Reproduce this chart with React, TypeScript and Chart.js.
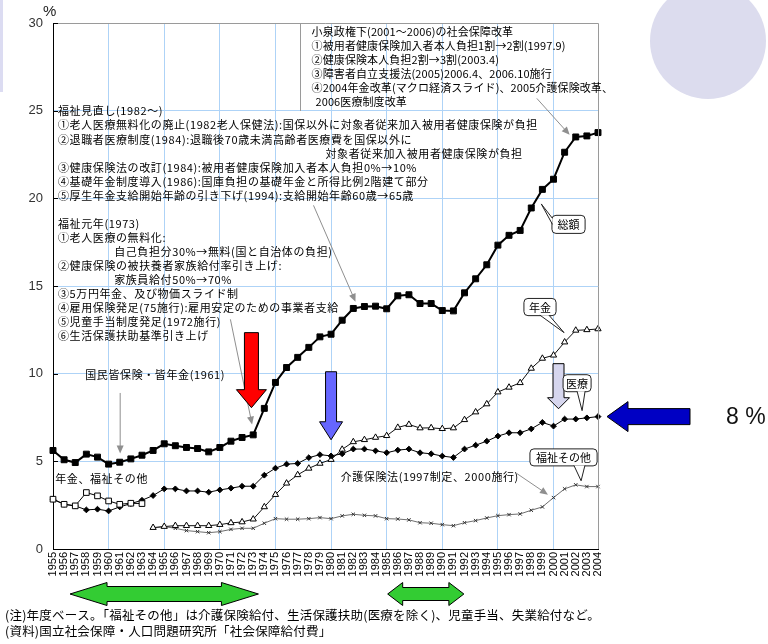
import React, { useEffect, useRef } from "react";
import { Chart, registerables } from "chart.js";
Chart.register(...registerables);

// ---------- data ----------
const years = [
  "1955","1956","1957","1958","1959","1960","1961","1962","1963","1964",
  "1965","1966","1967","1968","1969","1970","1971","1972","1973","1974",
  "1975","1976","1977","1978","1979","1980","1981","1982","1983","1984",
  "1985","1986","1987","1988","1989","1990","1991","1992","1993","1994",
  "1995","1996","1997","1998","1999","2000","2001","2002","2003","2004",
];

// 総額 (total social security benefits, % of national income)
const totalShare = [
  5.62, 5.09, 4.93, 5.41, 5.24, 4.84, 4.95, 5.14, 5.35, 5.62,
  6.0, 5.89, 5.79, 5.73, 5.54, 5.79, 6.15, 6.36, 6.51, 8.02,
  9.5, 10.35, 10.93, 11.5, 12.1, 12.25, 13.05, 13.72, 13.83, 13.85,
  13.7, 14.44, 14.5, 14.0, 14.0, 13.6, 13.58, 14.61, 15.41, 16.21,
  17.33, 17.89, 18.17, 19.45, 20.51, 21.09, 22.63, 23.5, 23.56, 23.75,
];

// 医療
const medical = [
  2.84, 2.55, 2.46, 2.23, 2.27, 2.17, 2.4, 2.59, 2.78, 3.05,
  3.43, 3.43, 3.31, 3.31, 3.24, 3.37, 3.47, 3.58, 3.58, 4.21,
  4.61, 4.84, 4.88, 5.21, 5.38, 5.31, 5.43, 5.7, 5.7, 5.6,
  5.49, 5.64, 5.7, 5.49, 5.43, 5.3, 5.22, 5.7, 5.92, 6.15,
  6.44, 6.63, 6.63, 6.85, 7.22, 7.01, 7.41, 7.41, 7.48, 7.55,
];

// 年金
const pension = [
  null, null, null, null, null, null, null, null, null, 1.22,
  1.28, 1.33, 1.33, 1.33, 1.33, 1.39, 1.49, 1.54, 1.7, 2.4,
  3.1, 3.75, 4.23, 4.6, 4.88, 5.1, 5.68, 6.11, 6.23, 6.36,
  6.46, 6.93, 7.1, 6.9, 6.91, 6.86, 6.9, 7.37, 7.81, 8.27,
  8.95, 9.22, 9.48, 10.3, 10.87, 11.05, 11.8, 12.47, 12.5, 12.55,
];

// 福祉その他
const welfareOther = [
  null, null, null, null, null, null, null, null, null, 1.2,
  1.28, 1.18, 1.05, 0.99, 0.93, 0.99, 1.12, 1.18, 1.18, 1.47,
  1.73, 1.7, 1.7, 1.73, 1.79, 1.73, 1.89, 1.98, 1.92, 1.89,
  1.73, 1.71, 1.66, 1.5, 1.47, 1.39, 1.33, 1.5, 1.62, 1.77,
  1.9, 1.96, 2.0, 2.21, 2.4, 2.93, 3.43, 3.66, 3.56, 3.56,
];

// 年金、福祉その他 (combined, early years)
const pensionWelfareEarly = [
  2.84, 2.55, 2.46, 3.22, 3.03, 2.74, 2.55, 2.61, 2.59, null,
  null, null, null, null, null, null, null, null, null, null,
  null, null, null, null, null, null, null, null, null, null,
  null, null, null, null, null, null, null, null, null, null,
  null, null, null, null, null, null, null, null, null, null,
];

const yTickValues = [0, 5, 10, 15, 20, 25, 30];

// ---------- annotation texts ----------
const koizumiNotes = [
  "小泉政権下(2001～2006)の社会保障改革",
  "①被用者健康保険加入者本人負担1割→2割(1997.9)",
  "②健康保険本人負担2割→3割(2003.4)",
  "③障害者自立支援法(2005)2006.4、2006.10施行",
  "④2004年金改革(マクロ経済スライド)、2005介護保険改革、",
  "2006医療制度改革",
];
const reviewNotes = [
  "福祉見直し(1982～)",
  "①老人医療無料化の廃止(1982老人保健法):国保以外に対象者従来加入被用者健康保険が負担",
  "②退職者医療制度(1984):退職後70歳未満高齢者医療費を国保以外に",
  "対象者従来加入被用者健康保険が負担",
  "③健康保険法の改訂(1984):被用者健康保険加入者本人負担0%→10%",
  "④基礎年金制度導入(1986):国庫負担の基礎年金と所得比例2階建て部分",
  "⑤厚生年金支給開始年齢の引き下げ(1994):支給開始年齢60歳→65歳",
];
const welfareYearNotes = [
  "福祉元年(1973)",
  "①老人医療の無料化:",
  "自己負担分30%→無料(国と自治体の負担)",
  "②健康保険の被扶養者家族給付率引き上げ:",
  "家族員給付50%→70%",
  "③5万円年金、及び物価スライド制",
  "④雇用保険発足(75施行):雇用安定のための事業者支給",
  "⑤児童手当制度発足(1972施行)",
  "⑥生活保護扶助基準引き上げ",
];
const footnotes = [
  "(注)年度ベース。「福祉その他」は介護保険給付、生活保護扶助(医療を除く)、児童手当、失業給付など。",
  "(資料)国立社会保障・人口問題研究所「社会保障給付費」",
];
const seriesNames = { total: "総額", pension: "年金", medical: "医療", welfare: "福祉その他", early: "年金、福祉その他" };
const eventLabels = {
  universal: "国民皆保険・皆年金(1961)",
  ltc: "介護保険法(1997制定、2000施行)",
};
const sideLabel = "8 %";

const JP = '"Noto Sans CJK JP", "Noto Sans", sans-serif';
const GRID = "#aed3f7";

// ---------- drawing helpers ----------
function thinArrow(ctx: CanvasRenderingContext2D, x1: number, y1: number, x2: number, y2: number, color: string) {
  const a = Math.atan2(y2 - y1, x2 - x1);
  const L = 8, W = 3.5;
  ctx.strokeStyle = color;
  ctx.lineWidth = 1;
  ctx.beginPath();
  ctx.moveTo(x1, y1);
  ctx.lineTo(x2 - (L - 1) * Math.cos(a), y2 - (L - 1) * Math.sin(a));
  ctx.stroke();
  ctx.fillStyle = color;
  ctx.beginPath();
  ctx.moveTo(x2, y2);
  ctx.lineTo(x2 - L * Math.cos(a) + W * Math.sin(a), y2 - L * Math.sin(a) - W * Math.cos(a));
  ctx.lineTo(x2 - L * Math.cos(a) - W * Math.sin(a), y2 - L * Math.sin(a) + W * Math.cos(a));
  ctx.closePath();
  ctx.fill();
}

function downArrow(ctx: CanvasRenderingContext2D, cx: number, top: number, tip: number, shaftW: number, headW: number, headLen: number, fill: string) {
  ctx.beginPath();
  ctx.moveTo(cx - shaftW / 2, top);
  ctx.lineTo(cx + shaftW / 2, top);
  ctx.lineTo(cx + shaftW / 2, tip - headLen);
  ctx.lineTo(cx + headW / 2, tip - headLen);
  ctx.lineTo(cx, tip);
  ctx.lineTo(cx - headW / 2, tip - headLen);
  ctx.lineTo(cx - shaftW / 2, tip - headLen);
  ctx.closePath();
  ctx.fillStyle = fill;
  ctx.fill();
  ctx.strokeStyle = "#000";
  ctx.lineWidth = 1;
  ctx.stroke();
}

function leftArrow(ctx: CanvasRenderingContext2D, tipX: number, cy: number, endX: number, shaftH: number, headH: number, headLen: number, fill: string) {
  ctx.beginPath();
  ctx.moveTo(tipX, cy);
  ctx.lineTo(tipX + headLen, cy - headH / 2);
  ctx.lineTo(tipX + headLen, cy - shaftH / 2);
  ctx.lineTo(endX, cy - shaftH / 2);
  ctx.lineTo(endX, cy + shaftH / 2);
  ctx.lineTo(tipX + headLen, cy + shaftH / 2);
  ctx.lineTo(tipX + headLen, cy + headH / 2);
  ctx.closePath();
  ctx.fillStyle = fill;
  ctx.fill();
  ctx.strokeStyle = "#000";
  ctx.lineWidth = 1;
  ctx.stroke();
}

function doubleArrow(ctx: CanvasRenderingContext2D, x1: number, x2: number, cy: number, shaftH: number, headH: number, headLen: number, fill: string) {
  ctx.beginPath();
  ctx.moveTo(x1, cy);
  ctx.lineTo(x1 + headLen, cy - headH / 2);
  ctx.lineTo(x1 + headLen, cy - shaftH / 2);
  ctx.lineTo(x2 - headLen, cy - shaftH / 2);
  ctx.lineTo(x2 - headLen, cy - headH / 2);
  ctx.lineTo(x2, cy);
  ctx.lineTo(x2 - headLen, cy + headH / 2);
  ctx.lineTo(x2 - headLen, cy + shaftH / 2);
  ctx.lineTo(x1 + headLen, cy + shaftH / 2);
  ctx.lineTo(x1 + headLen, cy + headH / 2);
  ctx.closePath();
  ctx.fillStyle = fill;
  ctx.fill();
  ctx.strokeStyle = "#000";
  ctx.lineWidth = 1;
  ctx.stroke();
}

function roundRect(ctx: CanvasRenderingContext2D, x: number, y: number, w: number, h: number, r: number) {
  ctx.beginPath();
  ctx.moveTo(x + r, y);
  ctx.lineTo(x + w - r, y);
  ctx.arcTo(x + w, y, x + w, y + r, r);
  ctx.lineTo(x + w, y + h - r);
  ctx.arcTo(x + w, y + h, x + w - r, y + h, r);
  ctx.lineTo(x + r, y + h);
  ctx.arcTo(x, y + h, x, y + h - r, r);
  ctx.lineTo(x, y + r);
  ctx.arcTo(x, y, x + r, y, r);
  ctx.closePath();
}

function callout(
  ctx: CanvasRenderingContext2D,
  x1: number, y1: number, x2: number, y2: number,
  tipX: number, tipY: number,
  b1: [number, number], b2: [number, number],
  label: string,
) {
  ctx.lineWidth = 1;
  roundRect(ctx, x1, y1, x2 - x1, y2 - y1, 4);
  ctx.fillStyle = "#fff";
  ctx.fill();
  ctx.strokeStyle = "#222";
  ctx.stroke();
  ctx.beginPath();
  ctx.moveTo(b1[0], b1[1]);
  ctx.lineTo(tipX, tipY);
  ctx.lineTo(b2[0], b2[1]);
  ctx.closePath();
  ctx.fillStyle = "#fff";
  ctx.fill();
  ctx.beginPath();
  ctx.moveTo(b1[0], b1[1]);
  ctx.lineTo(tipX, tipY);
  ctx.lineTo(b2[0], b2[1]);
  ctx.strokeStyle = "#222";
  ctx.stroke();
  ctx.fillStyle = "#000";
  ctx.font = `11px ${JP}`;
  ctx.textAlign = "center";
  ctx.textBaseline = "middle";
  ctx.fillText(label, (x1 + x2) / 2, (y1 + y2) / 2 + 0.5);
}

const decorPlugin = {
  id: "decor",
  beforeDraw(chart: any) {
    const ctx: CanvasRenderingContext2D = chart.ctx;
    ctx.save();
    ctx.fillStyle = "#fff";
    ctx.fillRect(0, 0, chart.width, chart.height);
    ctx.fillStyle = "#dcdcee";
    ctx.beginPath();
    ctx.arc(708, 41, 58, 0, Math.PI * 2);
    ctx.fill();
    ctx.fillStyle = "#dcdcf2";
    ctx.fillRect(0, 0, 3, 92);
    ctx.restore();
  },
  afterDraw(chart: any) {
    const ctx: CanvasRenderingContext2D = chart.ctx;
    const ca = chart.chartArea;
    const xs = chart.scales.x;
    const ys = chart.scales.y;
    const X = (yr: number) => xs.getPixelForValue(yr - 1955);
    const Y = (v: number) => ys.getPixelForValue(v);
    ctx.save();

    // frame (top / right in gray)
    ctx.strokeStyle = "#9a9a9a";
    ctx.lineWidth = 1;
    ctx.beginPath();
    ctx.moveTo(ca.left, Math.round(ca.top) + 0.5);
    ctx.lineTo(Math.round(ca.right) + 0.5, Math.round(ca.top) + 0.5);
    ctx.lineTo(Math.round(ca.right) + 0.5, ca.bottom);
    ctx.stroke();

    // inward y ticks
    ctx.strokeStyle = "#000";
    ctx.beginPath();
    for (const v of yTickValues) {
      if (v === 0) continue;
      const py = Math.round(Y(v)) + 0.5;
      ctx.moveTo(ca.left, py);
      ctx.lineTo(ca.left + 5, py);
    }
    ctx.stroke();

    // "%" unit
    ctx.fillStyle = "#222";
    ctx.font = '15px "Liberation Sans", sans-serif';
    ctx.textAlign = "left";
    ctx.textBaseline = "middle";
    ctx.fillText("%", ca.left - 10, Y(30) - 11);

    // Koizumi box (left edge)
    ctx.strokeStyle = "#9a9a9a";
    const bx = Math.round(X(1977.25)) + 0.5;
    ctx.beginPath();
    ctx.moveTo(bx, Math.round(Y(30)) + 0.5);
    ctx.lineTo(bx, Math.round(Y(25)));
    ctx.stroke();

    ctx.fillStyle = "#000";
    ctx.textAlign = "left";
    ctx.textBaseline = "middle";

    // Koizumi notes
    (ctx as any).letterSpacing = "0.1px";
    ctx.font = `11px ${JP}`;
    koizumiNotes.forEach((s, i) => {
      const x = i === koizumiNotes.length - 1 ? X(1978.6) : X(1978.25);
      ctx.fillText(s, x, Y(29.48) + i * 14);
    });

    // 福祉見直し block
    (ctx as any).letterSpacing = "0.6px";
    reviewNotes.forEach((s, i) => {
      const x = i === 3 ? X(1979.5) : X(1955.45);
      ctx.fillText(s, x, Y(24.97) + i * 14.1);
    });

    // 福祉元年 block
    welfareYearNotes.forEach((s, i) => {
      const x = i === 2 || i === 4 ? X(1960.5) : X(1955.45);
      ctx.fillText(s, x, Y(18.57) + i * 14);
    });

    // other labels
    ctx.fillText(eventLabels.universal, X(1957.9), Y(9.94));
    ctx.fillText(seriesNames.early, X(1955.2), Y(4.0));
    ctx.fillText(eventLabels.ltc, X(1980.86), Y(4.11));
    (ctx as any).letterSpacing = "0px";

    // thin gray arrows
    const g = "#8f8f8f";
    thinArrow(ctx, X(1961.04), Y(8.9), X(1961.04), Y(5.45), g);
    thinArrow(ctx, X(1970.95), Y(13.1), X(1972.9), Y(7.1), g);
    thinArrow(ctx, X(1978.42), Y(19.6), X(1982.2), Y(14.1), g);
    thinArrow(ctx, X(1998.5), Y(25.7), X(2001.45), Y(23.62), g);
    thinArrow(ctx, X(1996.62), Y(4.34), X(1999.5), Y(3.1), g);

    // block arrows
    downArrow(ctx, X(1972.84), Y(12.34), Y(8.06), 14, 30, 18, "#ff0000");
    downArrow(ctx, X(1980.0), Y(10.11), Y(6.23), 11, 23, 18, "#6666ff");
    downArrow(ctx, X(2000.45), Y(10.57), Y(8.0), 11, 22, 11, "#d6d6ee");

    // callouts
    {
      const x1 = X(1999.86), x2 = X(2002.84), y1 = Y(19.03), y2 = Y(18.0);
      callout(ctx, x1, y1, x2, y2, X(1998.9), Y(19.68), [x1 + 0.5, y1 + 3], [x1 + 0.5, y1 + 9], seriesNames.total);
    }
    {
      const x1 = X(1997.34), x2 = X(2000.23), y1 = Y(14.29), y2 = Y(13.31);
      callout(ctx, x1, y1, x2, y2, X(2000.95), Y(12.34), [x1 + 16, y2 - 0.5], [x1 + 25, y2 - 0.5], seriesNames.pension);
    }
    {
      const x1 = X(2000.86), x2 = X(2003.38), y1 = Y(9.94), y2 = Y(8.97);
      callout(ctx, x1, y1, x2, y2, X(2002.57), Y(7.89), [x1 + 14, y2 - 0.5], [x1 + 22, y2 - 0.5], seriesNames.medical);
    }
    {
      const x1 = X(1997.88), x2 = X(2003.92), y1 = Y(5.71), y2 = Y(4.74);
      callout(ctx, x1, y1, x2, y2, X(2002.48), Y(3.89), [x1 + 44, y2 - 0.5], [x1 + 55, y2 - 0.5], seriesNames.welfare);
    }

    // right side pointer arrow to latest medical value
    const ry = Y(medical[medical.length - 1] as number);
    leftArrow(ctx, ca.right + 9, ry, ca.right + 92, 16, 30, 21, "#0000c4");
    ctx.fillStyle = "#111";
    ctx.font = '23px "Liberation Sans", "DejaVu Sans", sans-serif';
    ctx.textAlign = "left";
    ctx.textBaseline = "middle";
    ctx.fillText(sideLabel, ca.right + 128, ry + 1);

    // green double arrows under the axis
    doubleArrow(ctx, X(1956.53), X(1973.47), ca.bottom + 45, 15, 23, 37, "#33cc33");
    doubleArrow(ctx, X(1985.09), X(1991.94), ca.bottom + 45, 13, 23, 15, "#33cc33");

    // footnotes
    ctx.fillStyle = "#000";
    ctx.font = `12.5px ${JP}`;
    (ctx as any).letterSpacing = "0.2px";
    ctx.textAlign = "left";
    footnotes.forEach((s, i) => ctx.fillText(s, 5, 615 + i * 16));
    (ctx as any).letterSpacing = "0px";

    ctx.restore();
  },
};

export default function App() {
  const ref = useRef<HTMLCanvasElement>(null);
  useEffect(() => {
    const chart = new Chart(ref.current as HTMLCanvasElement, {
      type: "line",
      data: {
        labels: years,
        datasets: [
          {
            label: seriesNames.total,
            data: totalShare,
            borderColor: "#000",
            backgroundColor: "#000",
            borderWidth: 2,
            pointStyle: "rect",
            pointRadius: 4.2,
            pointBorderWidth: 1,
            tension: 0,
          },
          {
            label: seriesNames.early,
            data: pensionWelfareEarly,
            borderColor: "#000",
            backgroundColor: "#fff",
            pointBorderColor: "#000",
            borderWidth: 1,
            pointStyle: "rect",
            pointRadius: 4,
            pointBorderWidth: 1,
          },
          {
            label: seriesNames.medical,
            data: medical,
            borderColor: "#000",
            backgroundColor: "#000",
            borderWidth: 1,
            pointStyle: "rectRot",
            pointRadius: 2.9,
            pointBorderWidth: 1,
          },
          {
            label: seriesNames.pension,
            data: pension,
            borderColor: "#111",
            backgroundColor: "#fff",
            pointBorderColor: "#000",
            borderWidth: 1,
            pointStyle: "triangle",
            pointRadius: 3.6,
            pointBorderWidth: 1,
          },
          {
            label: seriesNames.welfare,
            data: welfareOther,
            borderColor: "#6e6e6e",
            backgroundColor: "#333",
            pointBorderColor: "#333",
            borderWidth: 1,
            pointStyle: "crossRot",
            pointRadius: 2.4,
            pointBorderWidth: 1,
          },
        ],
      },
      options: {
        animation: false,
        responsive: false,
        devicePixelRatio: 1,
        spanGaps: false,
        layout: { padding: { top: 23, right: 170, left: 0, bottom: 0 } },
        plugins: {
          legend: { display: false },
          tooltip: { enabled: false },
          title: { display: false },
        },
        scales: {
          x: {
            type: "category",
            offset: false,
            afterFit: (s: any) => { s.height = 95; },
            grid: {
              color: (c: any) => (c.index % 5 === 0 && c.index > 0 && c.index < years.length - 1 ? GRID : "rgba(0,0,0,0)"),
              drawTicks: false,
              lineWidth: 1,
            },
            border: { display: true, color: "#000", width: 1 },
            ticks: {
              autoSkip: false,
              minRotation: 90,
              maxRotation: 90,
              padding: 3,
              color: "#000",
              font: { family: '"Liberation Sans", sans-serif', size: 11 },
            },
          },
          y: {
            type: "linear",
            min: 0,
            max: 30,
            afterFit: (s: any) => { s.width = 53; },
            grid: {
              color: (c: any) => (c.tick && c.tick.value > 0 && c.tick.value < 30 ? GRID : "rgba(0,0,0,0)"),
              drawTicks: false,
            },
            border: { display: true, color: "#000", width: 1 },
            afterBuildTicks: (s: any) => { s.ticks = yTickValues.map((v) => ({ value: v })); },
            ticks: {
              padding: 10,
              color: "#333",
              font: { family: '"Liberation Sans", sans-serif', size: 13 },
            },
          },
        },
      },
      plugins: [decorPlugin],
    });
    return () => chart.destroy();
  }, []);
  return (
    <div style={{ position: "absolute", left: 0, top: 0, width: 768, height: 644, background: "#fff" }}>
      <canvas ref={ref} width={768} height={644} style={{ width: 768, height: 644, display: "block" }} />
    </div>
  );
}
